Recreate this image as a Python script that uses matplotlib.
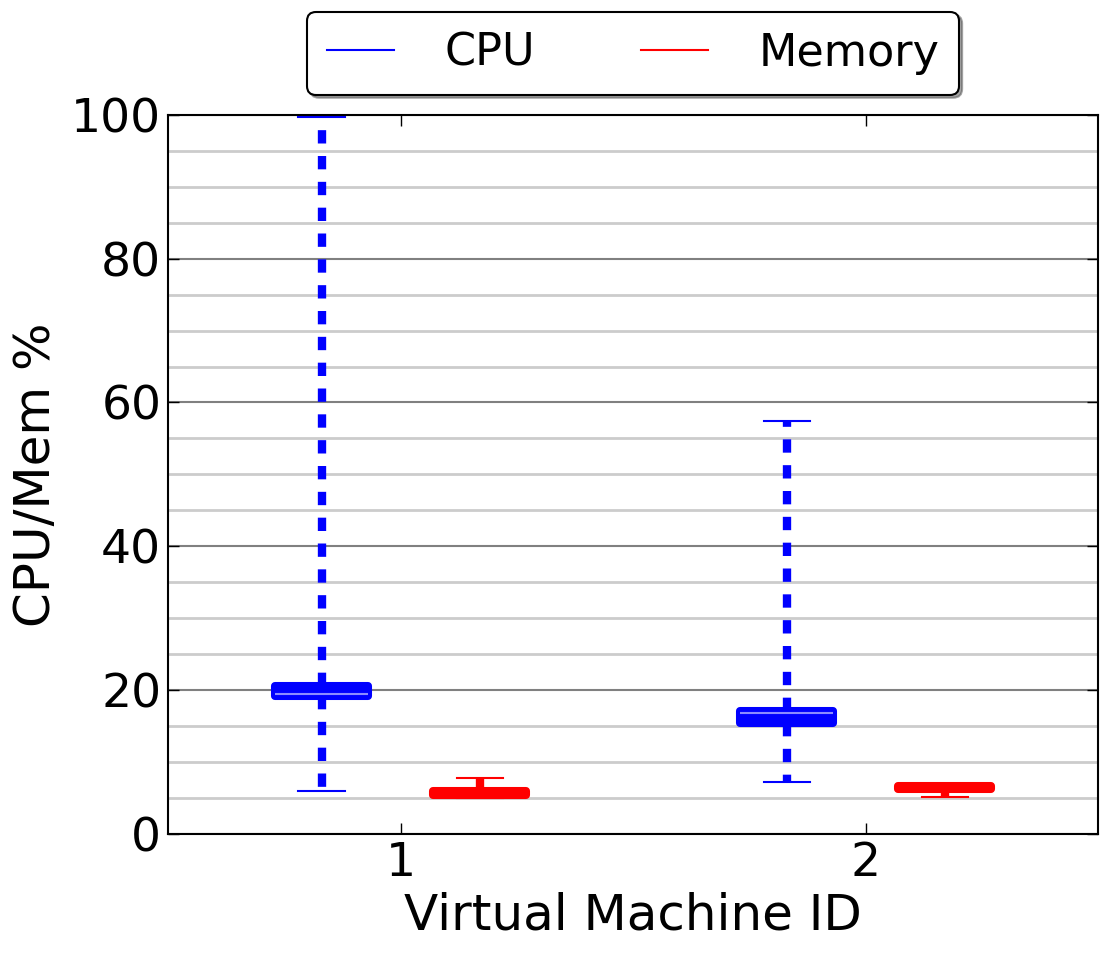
import matplotlib
matplotlib.use("Agg")
import matplotlib.pyplot as plt
from matplotlib.lines import Line2D
from matplotlib.ticker import MultipleLocator

vm_ids = [1, 2]
# five-number summaries
cpu_whislo = [6.0, 7.2]
cpu_q1 = [19.1, 15.4]
cpu_med = [19.5, 16.8]
cpu_q3 = [20.6, 17.1]
cpu_whishi = [99.7, 57.4]

mem_whislo = [5.0, 5.1]
mem_q1 = [5.4, 6.2]
mem_med = [5.6, 6.4]
mem_q3 = [5.9, 6.6]
mem_whishi = [7.8, 6.8]


def make_stats(lo, q1, med, q3, hi):
    return [dict(whislo=a, q1=b, med=c, q3=d, whishi=e, fliers=[])
            for a, b, c, d, e in zip(lo, q1, med, q3, hi)]


fig = plt.figure(figsize=(11.14, 9.66), dpi=100)
ax = fig.add_axes([0.151, 0.137, 0.835, 0.744])

# grid first so boxes sit on top
ax.yaxis.set_minor_locator(MultipleLocator(5))
ax.yaxis.set_major_locator(MultipleLocator(20))
ax.grid(True, which="minor", axis="y", color="#cccccc", linewidth=2, linestyle="-")
ax.grid(True, which="major", axis="y", color="#808080", linewidth=1.5, linestyle="-")
ax.set_axisbelow(True)


def draw(stats, offset, color, medcolor):
    pos = [v + offset for v in vm_ids]
    ax.bxp(stats, positions=pos, widths=0.2, showfliers=False, patch_artist=True,
           boxprops=dict(facecolor=color, edgecolor=color, linewidth=5.8,
                         joinstyle="round"),
           whiskerprops=dict(color=color, linewidth=6, linestyle=(0, (1.6, 1.5))),
           capprops=dict(color=color, linewidth=1.5),
           medianprops=dict(color=medcolor, linewidth=1.5))


draw(make_stats(cpu_whislo, cpu_q1, cpu_med, cpu_q3, cpu_whishi), -0.17, "#0000ff", "#8c8cff")
draw(make_stats(mem_whislo, mem_q1, mem_med, mem_q3, mem_whishi), 0.17, "#ff0000", "#ff0000")

ax.set_xlim(0.5, 2.5)
ax.set_ylim(0, 100)
ax.set_xticks(vm_ids)
ax.set_xticklabels([str(v) for v in vm_ids])
ax.tick_params(axis="both", which="major", labelsize=34, direction="in",
               top=True, right=True, length=8, width=1, pad=5)
ax.tick_params(axis="y", which="minor", left=False, right=False)
for s in ax.spines.values():
    s.set_linewidth(1.5)

ax.set_xlabel("Virtual Machine ID", fontsize=36, labelpad=4)
ax.set_ylabel("CPU/Mem %", fontsize=36, labelpad=8)

handles = [Line2D([], [], color="#0000ff", lw=1.5),
           Line2D([], [], color="#ff0000", lw=1.5)]
leg = ax.legend(handles, ["CPU", "Memory"], loc="lower center",
                bbox_to_anchor=(0.5, 1.0), ncol=2, fontsize=32,
                fancybox=True, shadow=True, handlelength=1.5,
                handletextpad=1.13, columnspacing=2.4, borderpad=0.45,
                borderaxespad=0.45)
leg.get_frame().set_edgecolor("black")
leg.get_frame().set_linewidth(1.5)

fig.savefig("out.png", dpi=100)
